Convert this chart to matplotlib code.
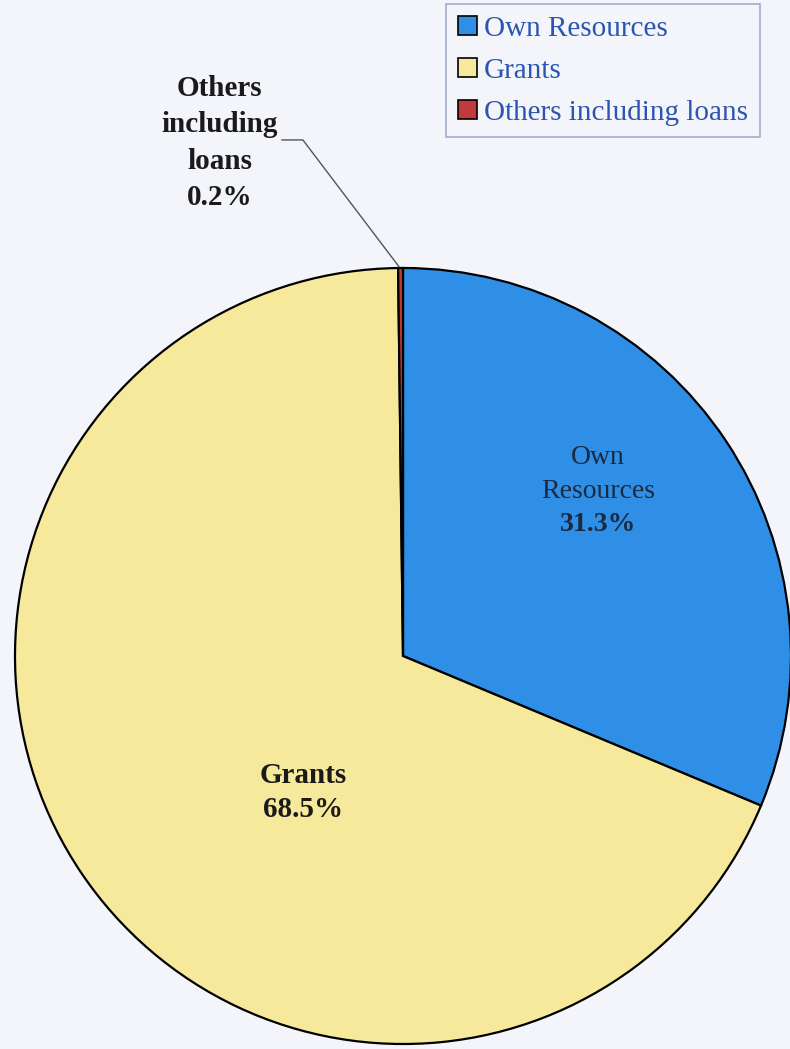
import matplotlib.pyplot as plt

plt.rcParams['font.family'] = ['Liberation Serif', 'DejaVu Serif']

# funding sources, share of total (%)
sources = ['Own Resources', 'Grants', 'Others including loans']
shares = [31.3, 68.5, 0.2]
colors = ['#2f8fe6', '#f6e99c', '#c23a3c']

bg = '#f3f5fa'
W, H = 790, 1049
cx, cy, r = 403, 656, 388   # pie centre and radius in pixels

fig = plt.figure(figsize=(W / 100, H / 100), dpi=100, facecolor=bg)
ax = fig.add_axes([(cx - r) / W, (H - cy - r) / H, 2 * r / W, 2 * r / H])
ax.set_facecolor(bg)

wedges, _ = ax.pie(shares, colors=colors, startangle=90, counterclock=False,
                   radius=1, wedgeprops=dict(edgecolor='black', linewidth=1.6))
ax.set_xlim(-1, 1)
ax.set_ylim(-1, 1)
ax.set_aspect('equal')
ax.axis('off')
for w in wedges:
    w.set_clip_on(False)

# data labels
ax.text(0.503, 0.468, 'Own\nResources', ha='center', va='center', fontsize=20,
        color='#1a2a40', linespacing=1.5)
ax.text(0.503, 0.34, f'{shares[0]}%', ha='center', va='center', fontsize=20,
        fontweight='bold', color='#1a2a40')
ax.text(-0.258, -0.351, f'Grants\n{shares[1]}%', ha='center', va='center',
        fontsize=21, fontweight='bold', color='#1a1a1a', linespacing=1.35)
ax.text(-0.472, 1.322, f'Others\nincluding\nloans\n{shares[2]}%', ha='center',
        va='center', fontsize=21, fontweight='bold', color='#1a1a1a',
        linespacing=1.45, clip_on=False)
ax.plot([-0.312, -0.258, -0.010], [1.33, 1.33, 1.003], color='#555555',
        linewidth=1.0, clip_on=False)

leg = fig.legend(wedges, sources, loc='upper left',
                 bbox_to_anchor=(446 / W, 1 - 4 / H), fontsize=21,
                 frameon=True, fancybox=False, borderpad=0.4,
                 labelspacing=0.55, handlelength=0.65, handleheight=0.65,
                 handletextpad=0.25, borderaxespad=0)
leg.get_frame().set_edgecolor('#8f9cc0')
leg.get_frame().set_facecolor(bg)
leg.get_frame().set_linewidth(1.2)
for t in leg.get_texts():
    t.set_color('#2a55b0')
for h in leg.legend_handles:
    h.set_linewidth(1.2)

fig.savefig('out.png', dpi=100, facecolor=bg)
